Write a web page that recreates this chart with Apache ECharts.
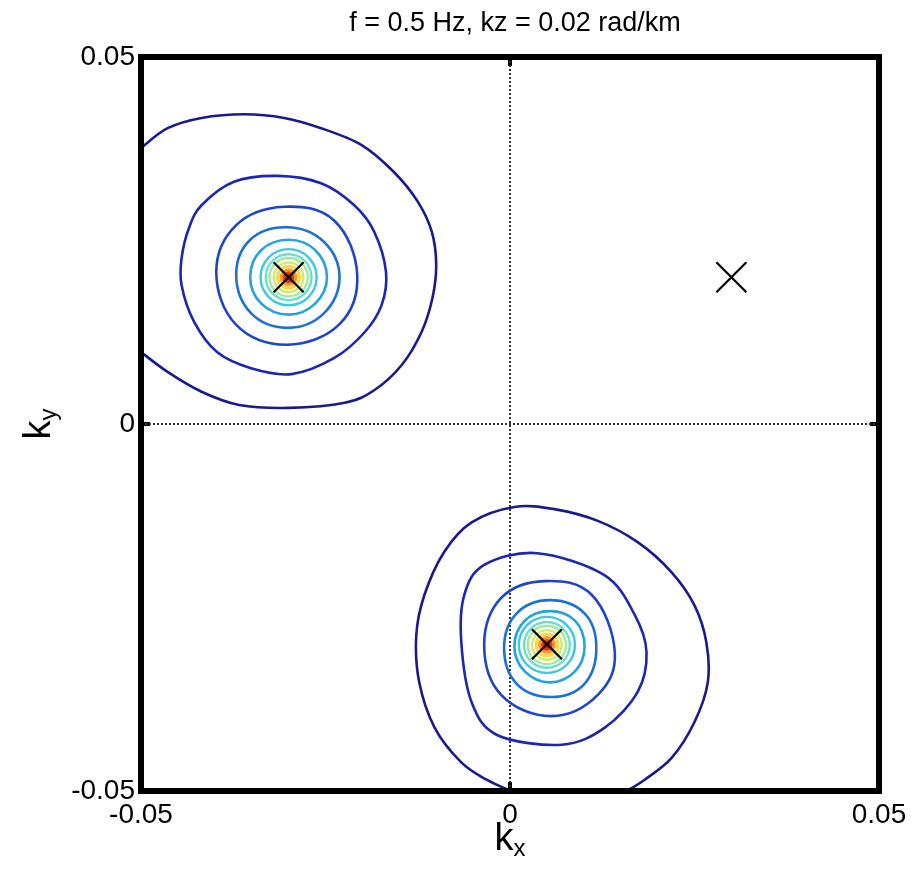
<!DOCTYPE html>
<html>
<head>
<meta charset="utf-8">
<script src="https://cdn.jsdelivr.net/npm/echarts@6/dist/echarts.min.js"></script>
<style>html,body{margin:0;padding:0;background:#fff}#c{width:912px;height:871px}</style>
</head>
<body>
<div id="c"></div>
<script>
// ---- data (kx, ky in rad/km) ----
const titleText = 'f = 0.5 Hz, kz = 0.02 rad/km';
const tickValues = [-0.05, 0, 0.05];
const xTickLabels = ['-0.05', '0', '0.05'];
const yTickLabels = ['-0.05', '0', '0.05'];

// source (beam peak) positions and the extra cross
const crossKx = [-0.03, 0.005, 0.03];
const crossKy = [0.02, -0.03, 0.02];
const sourceKx = [-0.03, 0.005];
const sourceKy = [0.02, -0.0301];

// upper-left source contours (outer ones traced)
const ulRing1 = [[-0.0500,0.0376],[-0.0464,0.0403],[-0.0418,0.0417],[-0.0360,0.0422],[-0.0306,0.0417],[-0.0256,0.0403],[-0.0201,0.0380],[-0.0157,0.0343],[-0.0125,0.0303],[-0.0106,0.0262],[-0.0100,0.0217],[-0.0105,0.0172],[-0.0120,0.0125],[-0.0147,0.0080],[-0.0184,0.0046],[-0.0224,0.0029],[-0.0299,0.0022],[-0.0367,0.0026],[-0.0418,0.0044],[-0.0464,0.0071],[-0.0500,0.0098]];
const ulRing2 = [[-0.0315,0.0338],[-0.0256,0.0328],[-0.0211,0.0298],[-0.0184,0.0262],[-0.0168,0.0207],[-0.0174,0.0162],[-0.0197,0.0125],[-0.0238,0.0090],[-0.0296,0.0068],[-0.0351,0.0076],[-0.0397,0.0098],[-0.0428,0.0139],[-0.0445,0.0189],[-0.0445,0.0226],[-0.0435,0.0267],[-0.0418,0.0298],[-0.0374,0.0330]];
const ulRing3 = [[-0.0306,0.0296],[-0.0238,0.0277],[-0.0207,0.0203],[-0.0231,0.0136],[-0.0302,0.0108],[-0.0371,0.0135],[-0.0398,0.0207],[-0.0371,0.0271]];
const ulRing4 = [[-0.0303,0.0268],[-0.0253,0.0249],[-0.0231,0.0200],[-0.0253,0.0150],[-0.0302,0.0131],[-0.0351,0.0151],[-0.0371,0.0203],[-0.0352,0.0251]];
const ulRing5 = [[-0.0300,0.0251],[-0.0264,0.0237],[-0.0248,0.0200],[-0.0264,0.0164],[-0.0300,0.0149],[-0.0337,0.0164],[-0.0352,0.0200],[-0.0337,0.0237]];

// lower-right source contours
const lrRing1 = [[0.0001,-0.0500],[-0.0031,-0.0485],[-0.0066,-0.0461],[-0.0102,-0.0414],[-0.0123,-0.0352],[-0.0127,-0.0288],[-0.0116,-0.0233],[-0.0089,-0.0174],[-0.0052,-0.0134],[0.0006,-0.0113],[0.0060,-0.0116],[0.0119,-0.0132],[0.0173,-0.0161],[0.0219,-0.0202],[0.0250,-0.0247],[0.0266,-0.0297],[0.0268,-0.0352],[0.0250,-0.0406],[0.0219,-0.0455],[0.0182,-0.0485],[0.0158,-0.0500]];
const lrRing2 = [[0.0037,-0.0176],[0.0128,-0.0206],[0.0169,-0.0260],[0.0185,-0.0311],[0.0173,-0.0365],[0.0128,-0.0414],[0.0070,-0.0437],[-0.0017,-0.0424],[-0.0052,-0.0379],[-0.0066,-0.0297],[-0.0062,-0.0233],[-0.0035,-0.0192]];
const lrRing3 = [[0.0047,-0.0214],[0.0111,-0.0233],[0.0142,-0.0311],[0.0119,-0.0369],[0.0056,-0.0398],[-0.0012,-0.0369],[-0.0035,-0.0301],[-0.0012,-0.0237]];
const lrRing4 = [[0.0054,-0.0240],[0.0101,-0.0258],[0.0117,-0.0305],[0.0101,-0.0354],[0.0056,-0.0372],[0.0009,-0.0354],[-0.0008,-0.0305],[0.0009,-0.0258]];
const lrRing5 = [[0.0054,-0.0255],[0.0088,-0.0268],[0.0101,-0.0303],[0.0088,-0.0337],[0.0054,-0.0352],[0.0020,-0.0337],[0.0006,-0.0303],[0.0020,-0.0268]];

// innermost (near-circular) contour radii, rad/km, shared by both peaks
const innerRadii = [0.0038, 0.0031, 0.0026, 0.0020, 0.00148, 0.00100, 0.00060];
const coreRadius = 0.00032;

// ---- styles ----
const levelColors = ['#1a1a8e','#1c26b0','#1e44ca','#1e70d6','#22a4e0','#3cc9e0','#6cdfcc','#9cec9c','#cdec6a','#fbd64a','#fb9628','#e43c18'];
const FONT = '"Liberation Sans", Arial, Helvetica, sans-serif';

const contours = [
  {pts: ulRing1, closed: false, level: 0},
  {pts: ulRing2, closed: true, level: 1},
  {pts: ulRing3, closed: true, level: 2},
  {pts: ulRing4, closed: true, level: 3},
  {pts: ulRing5, closed: true, level: 4},
  {pts: lrRing1, closed: false, level: 0},
  {pts: lrRing2, closed: true, level: 1},
  {pts: lrRing3, closed: true, level: 2},
  {pts: lrRing4, closed: true, level: 3},
  {pts: lrRing5, closed: true, level: 4}
];

const circleData = [];
for (let s = 0; s < sourceKx.length; s++) {
  for (let i = 0; i < innerRadii.length; i++) circleData.push([sourceKx[s], sourceKy[s], innerRadii[i], 5 + i]);
  circleData.push([sourceKx[s], sourceKy[s], coreRadius, -1]);
}

function tickLabel(labels) {
  return function (v) {
    let best = 0;
    for (let i = 1; i < tickValues.length; i++) if (Math.abs(tickValues[i] - v) < Math.abs(tickValues[best] - v)) best = i;
    return labels[best];
  };
}

// Catmull-Rom style curve through pixel points -> SVG path string
function curvePath(P, closed) {
  const n = P.length;
  const div = (closed && n <= 8) ? 5.3 : 6;
  const get = function (i) {
    if (closed) return P[(i + n) % n];
    return P[Math.max(0, Math.min(n - 1, i))];
  };
  let d = 'M' + P[0][0] + ' ' + P[0][1];
  const segs = closed ? n : n - 1;
  for (let i = 0; i < segs; i++) {
    const p0 = get(i - 1), p1 = get(i), p2 = get(i + 1), p3 = get(i + 2);
    const c1x = p1[0] + (p2[0] - p0[0]) / div, c1y = p1[1] + (p2[1] - p0[1]) / div;
    const c2x = p2[0] - (p3[0] - p1[0]) / div, c2y = p2[1] - (p3[1] - p1[1]) / div;
    d += 'C' + c1x + ' ' + c1y + ' ' + c2x + ' ' + c2y + ' ' + p2[0] + ' ' + p2[1];
  }
  if (closed) d += 'Z';
  return d;
}

const chart = echarts.init(document.getElementById('c'), null, {renderer: 'canvas'});
const axisCommon = {
  type: 'value', min: -0.05, max: 0.05, interval: 0.05,
  axisLine: {show: false, onZero: false},
  axisTick: {show: true, inside: true, length: 9, lineStyle: {color: '#000', width: 4}},
  splitLine: {show: false}
};
const nameRich = function () {
  return {
    k: {fontFamily: FONT, fontSize: 38, color: '#000', lineHeight: 40, verticalAlign: 'top'},
    s: {fontFamily: FONT, fontSize: 24, color: '#000', lineHeight: 24, padding: [34, 0, 0, 0], verticalAlign: 'bottom'}
  };
};
chart.setOption({
  backgroundColor: '#fff',
  animation: false,
  title: {
    text: titleText, left: 510, top: 5, textAlign: 'center',
    textStyle: {fontFamily: FONT, fontSize: 27, fontWeight: 'normal', color: '#000'}
  },
  grid: {left: 141, right: 33, top: 57, bottom: 80, show: true, z: 10,
    outerBoundsMode: 'none', containLabel: false,
    borderColor: '#000', borderWidth: 6, backgroundColor: 'transparent'},
  xAxis: [
    Object.assign({}, axisCommon, {
      position: 'bottom',
      axisLabel: {show: true, fontFamily: FONT, fontSize: 28, color: '#000', margin: 10, formatter: tickLabel(xTickLabels)},
      name: '{k|k}{s|x}', nameLocation: 'middle', nameGap: 30, nameMoveOverlap: false,
      nameTextStyle: {rich: nameRich()}
    }),
    Object.assign({}, axisCommon, {position: 'top', axisLabel: {show: false}})
  ],
  yAxis: [
    Object.assign({}, axisCommon, {
      position: 'left',
      axisLabel: {show: true, fontFamily: FONT, fontSize: 28, color: '#000', margin: 6, formatter: tickLabel(yTickLabels)},
      name: '{k|k}{s|y}', nameLocation: 'middle', nameGap: 80, nameRotate: 90, nameMoveOverlap: false,
      nameTextStyle: {rich: nameRich()}
    }),
    Object.assign({}, axisCommon, {position: 'right', axisLabel: {show: false}})
  ],
  series: [
    {
      type: 'line', name: 'zeroV', data: [[0, -0.05], [0, 0.05]], symbol: 'none', z: 1,
      lineStyle: {color: '#333', width: 2, type: [2, 2]}
    },
    {
      type: 'line', name: 'zeroH', data: [[-0.05, 0], [0.05, 0]], symbol: 'none', z: 1,
      lineStyle: {color: '#333', width: 2, type: [2, 2]}
    },
    {
      type: 'custom', name: 'contours', clip: true, z: 3,
      data: contours.map(c => c.pts[0]),
      renderItem: function (params, api) {
        const c = contours[params.dataIndex];
        const pts = c.pts.map(p => api.coord(p));
        return {
          type: 'path',
          shape: {pathData: curvePath(pts, c.closed)},
          style: {fill: 'none', stroke: levelColors[c.level], lineWidth: 2.6}
        };
      }
    },
    {
      type: 'custom', name: 'innerContours', clip: true, z: 4,
      data: circleData,
      encode: {x: 0, y: 1},
      renderItem: function (params, api) {
        const c = api.coord([api.value(0), api.value(1)]);
        const r = api.size([api.value(2), 0])[0];
        const lvl = api.value(3);
        if (lvl < 0) {
          return {type: 'circle', shape: {cx: c[0], cy: c[1], r: r}, style: {fill: '#b01010', stroke: '#c82010', lineWidth: 2}};
        }
        return {
          type: 'circle', shape: {cx: c[0], cy: c[1], r: r},
          style: {fill: 'none', stroke: levelColors[lvl], lineWidth: lvl >= 9 ? 3 : 2.4}
        };
      }
    },
    {
      type: 'scatter', name: 'crosses', z: 6,
      data: crossKx.map((x, i) => [x, crossKy[i]]),
      symbol: 'path://M0 0L30 30M30 0L0 30', symbolSize: 30,
      itemStyle: {color: 'rgba(0,0,0,0)', borderColor: '#000', borderWidth: 2.2, opacity: 1}
    }
  ]
});
</script>
</body>
</html>
